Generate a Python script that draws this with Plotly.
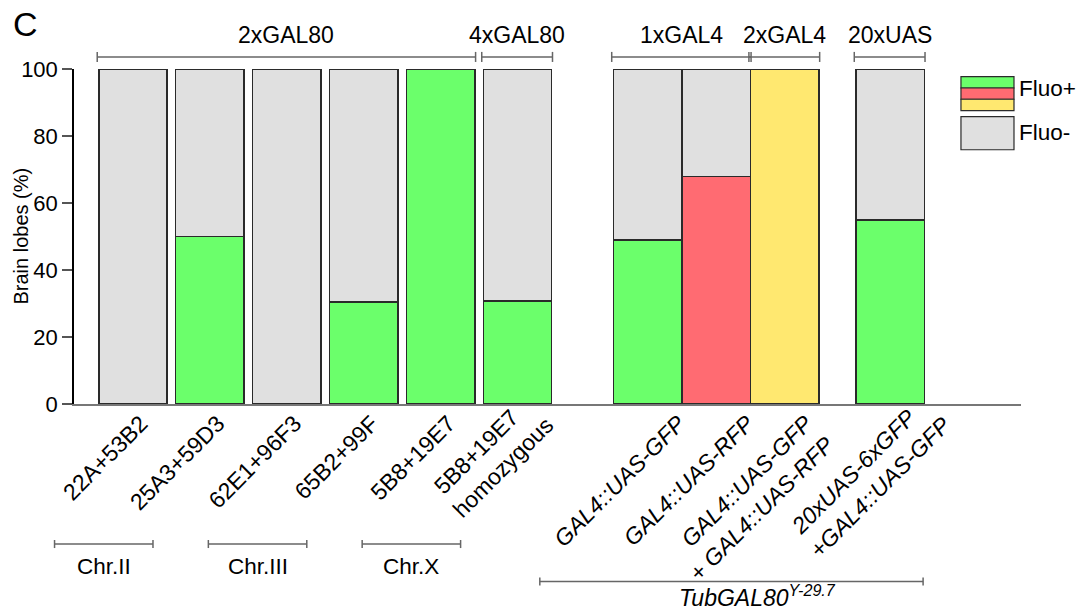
import plotly.graph_objects as go

# ---------------- data ----------------
NB = "\u00a0"
categories = [
    "22A+53B2", "25A3+59D3", "62E1+96F3", "65B2+99F", "5B8+19E7",
    "5B8+19E7" + NB * 3 + "<br>homozygous",
    "<i>GAL4::UAS-GFP</i>", "<i>GAL4::UAS-RFP</i>",
    "<i>GAL4::UAS-GFP</i><br><i>+ GAL4::UAS-RFP</i>",
    "<i>20xUAS-6xGFP</i>" + NB * 3 + "<br><i>+GAL4::UAS-GFP</i>",
]
fluo_pos = [0, 50, 0, 30.5, 100, 30.8, 49, 67.9, 100, 55]
reporter = ["GFP", "GFP", "GFP", "GFP", "GFP", "GFP", "GFP", "RFP", "GFP+RFP", "GFP"]
fluo_neg = [100 - v for v in fluo_pos]

top_groups = ["2xGAL80", "4xGAL80", "1xGAL4", "2xGAL4", "20xUAS"]
top_group_bars = [(0, 4), (5, 5), (6, 7), (8, 8), (9, 9)]
chr_groups = ["Chr.II", "Chr.III", "Chr.X"]
chr_group_bars = [(0, 1), (2, 3), (4, 5)]
bottom_label = "<i>TubGAL80<sup>Y-29.7</sup></i>"
y_ticks = [0, 20, 40, 60, 80, 100]

# ---------------- layout / style ----------------
FONT = "Liberation Sans, Arial, sans-serif"
colors = {"GFP": "#6bff6b", "RFP": "#ff6b72", "GFP+RFP": "#ffe870"}
gray = "#e0e0e0"
group_sizes = [6, 3, 1]
group_steps = [1.0, 0.892, 1.0]
group_gaps = [0.0, 1.69, 1.37]
bar_w = 0.89
XMIN, XMAX = -0.767, 11.547
# small nudges of the rotated tick labels: horizontal (axis units) and standoff (px)
label_nudge = [0.0, 0.0, 0.0, 0.0, 0.0, 0.0, 0.3, 0.3, 0.17, 0.32]
label_standoff = [-5, -5, -5, -5, -5, -19, -5, -5, -5, -19]

xpos = []
cur = 0.0
for gi, (n, st, gp) in enumerate(zip(group_sizes, group_steps, group_gaps)):
    if gi > 0:
        cur += gp
    for k in range(n):
        if k > 0:
            cur += st
        xpos.append(cur)

tickpos = [x + d for x, d in zip(xpos, label_nudge)]


def px(x):
    """data x -> paper x"""
    return (x - XMIN) / (XMAX - XMIN)


bar_colors = [colors[r] for r in reporter]

fig = go.Figure()
fig.add_bar(x=xpos, y=fluo_pos, width=bar_w, marker=dict(color=bar_colors,
            line=dict(color="#2a2a2a", width=1.5)), showlegend=False)
fig.add_bar(x=xpos, y=fluo_neg, width=bar_w, marker=dict(color=gray,
            line=dict(color="#2a2a2a", width=1.5)), showlegend=False)

shapes = []
annotations = []
line_col = "#666666"


def bracket(x0, x1, y, tick):
    x0, x1 = px(x0), px(x1)
    shapes.append(dict(type="line", xref="paper", yref="paper", x0=x0, x1=x1, y0=y, y1=y,
                       line=dict(color=line_col, width=1.5)))
    for xx in (x0, x1):
        shapes.append(dict(type="line", xref="paper", yref="paper", x0=xx, x1=xx,
                           y0=y - tick, y1=y + tick, line=dict(color=line_col, width=1.5)))


# top brackets
for name, (a, b) in zip(top_groups, top_group_bars):
    x0 = xpos[a] - bar_w / 2 - 0.02
    x1 = xpos[b] + bar_w / 2 + 0.01
    bracket(x0, x1, 1.036, 0.015)
    annotations.append(dict(x=px((x0 + x1) / 2), y=1.101, xref="paper", yref="paper", text=name,
                            showarrow=False, font=dict(size=23, color="black", family=FONT),
                            xanchor="center", yanchor="middle"))

# chromosome brackets (under rotated labels)
for name, (a, b) in zip(chr_groups, chr_group_bars):
    c = (xpos[a] + xpos[b]) / 2 - 0.88
    bracket(c - 0.64, c + 0.64, -0.418, 0.012)
    annotations.append(dict(x=px(c), y=-0.484, xref="paper", yref="paper", text=name,
                            showarrow=False, font=dict(size=22.5, color="black", family=FONT),
                            xanchor="center", yanchor="middle"))

# TubGAL80 bracket
t0 = xpos[6] - 1.40
t1 = xpos[9] + 0.43
bracket(t0, t1, -0.530, 0.012)
annotations.append(dict(x=px((t0 + t1) / 2 + 0.34), y=-0.572, xref="paper", yref="paper",
                        text=bottom_label, showarrow=False,
                        font=dict(size=23, color="black", family=FONT),
                        xanchor="center", yanchor="middle"))

# legend (custom swatches)
lx0, lx1 = 0.9366, 0.9926
stripe_cols = [colors["GFP"], colors["RFP"], colors["GFP+RFP"]]
top, bot = 0.977, 0.876
h = (top - bot) / 3
for i, c in enumerate(stripe_cols):
    shapes.append(dict(type="rect", xref="paper", yref="paper", x0=lx0, x1=lx1,
                       y0=top - (i + 1) * h, y1=top - i * h, fillcolor=c,
                       line=dict(color="#2a2a2a", width=1.2)))
shapes.append(dict(type="rect", xref="paper", yref="paper", x0=lx0, x1=lx1,
                   y0=0.759, y1=0.858, fillcolor=gray, line=dict(color="#2a2a2a", width=1.2)))
annotations.append(dict(x=0.9955, y=0.943, xref="paper", yref="paper", text="Fluo+",
                        showarrow=False, font=dict(size=22.5, color="black", family=FONT),
                        xanchor="left", yanchor="middle"))
annotations.append(dict(x=0.9955, y=0.809, xref="paper", yref="paper", text="Fluo-",
                        showarrow=False, font=dict(size=22.5, color="black", family=FONT),
                        xanchor="left", yanchor="middle"))

# y axis title
annotations.append(dict(x=(20 - 74) / 947, y=0.5, xref="paper", yref="paper",
                        text="Brain lobes (%)", textangle=-90, showarrow=False,
                        xanchor="center", yanchor="middle",
                        font=dict(size=20, color="black", family=FONT)))

# panel letter
annotations.append(dict(x=(25 - 74) / 947, y=(404 - 24) / 335, xref="paper", yref="paper",
                        text="C", showarrow=False, xanchor="center", yanchor="middle",
                        font=dict(size=34, color="black", family=FONT)))

tick_common = dict(range=[XMIN, XMAX], tickangle=-45, showgrid=False, zeroline=False,
                   ticks="", automargin=False, ticklabelshift=8,
                   tickfont=dict(size=23, family=FONT, color="black"))

axes = {}
standoffs = sorted(set(label_standoff), reverse=True)
for k, so in enumerate(standoffs):
    idx = [i for i in range(len(categories)) if label_standoff[i] == so]
    ax = dict(tickvals=[tickpos[i] for i in idx], ticktext=[categories[i] for i in idx],
              ticklabelstandoff=so, **tick_common)
    if k == 0:
        ax.update(showline=True, linecolor="#777777", linewidth=2)
        axes["xaxis"] = ax
    else:
        ax.update(overlaying="x", anchor="y", side="bottom", showline=False)
        axes[f"xaxis{k + 1}"] = ax
        # invisible trace so the extra label axis is drawn
        fig.add_scatter(x=[XMIN, XMAX], y=[0, 0], xaxis=f"x{k + 1}", mode="markers",
                        marker=dict(opacity=0), hoverinfo="skip", showlegend=False)

fig.update_layout(
    barmode="stack",
    width=1082, height=611,
    margin=dict(l=74, r=61, t=69, b=207, autoexpand=False),
    plot_bgcolor="white", paper_bgcolor="white",
    font=dict(family=FONT, color="black", size=20),
    shapes=shapes, annotations=annotations,
    showlegend=False,
    yaxis=dict(range=[0, 100], tickvals=y_ticks, showgrid=False, zeroline=False,
               showline=True, linecolor="black", linewidth=1.5, ticks="outside",
               ticklen=10, tickcolor="#555555", tickwidth=1.5, automargin=False,
               tickfont=dict(size=22, family=FONT, color="black")),
    **axes,
)

fig.write_html("out.html", post_script="document.body.style.margin='0';",
               config={"displayModeBar": False})
